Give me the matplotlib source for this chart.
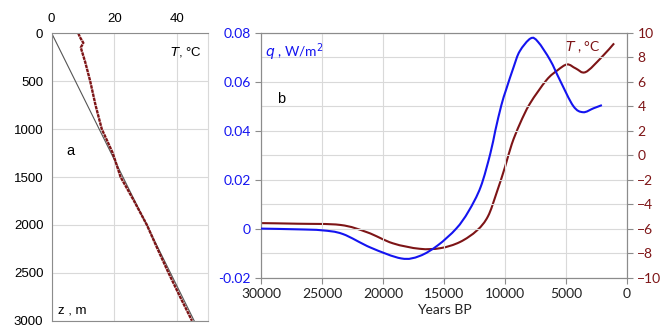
import matplotlib.pyplot as plt
from matplotlib.path import Path
from matplotlib.patches import PathPatch

# panel a: borehole temperature profile
depth = [0, 40, 100, 150, 300, 500, 750, 1000, 1250, 1500, 1750, 2000, 2250, 2500, 2750, 3000]
temp_profile = [8.5, 9.0, 10.1, 9.3, 10.7, 12.3, 14.0, 16.0, 19.5, 22.0, 26.3, 30.4, 33.8, 37.3, 41.0, 44.8]
ref_depth = [0, 3000]
ref_temp = [0, 45.5]

# panel b: reconstructed heat flux and surface temperature
years_q = [30000, 27000, 25000, 23300, 21000, 18500, 17000, 15500, 14000, 13000, 12000,
           11200, 10800, 10300, 9900, 9300, 8800, 7900, 7300, 6300, 5500, 4400, 3600, 2750, 2060]
q = [0.0, -0.0003, -0.0007, -0.0022, -0.0078, -0.0122, -0.0112, -0.0068, 0.0, 0.007, 0.017,
     0.0308, 0.040, 0.0505, 0.057, 0.066, 0.0725, 0.0778, 0.0764, 0.0689, 0.0607, 0.0501,
     0.0476, 0.0492, 0.0505]
years_T = [30000, 27000, 23500, 21300, 19200, 17000, 15300, 13700, 12300, 11400, 10700,
           10000, 9450, 8770, 7950, 6600, 5700, 4900, 4200, 3400, 2100, 1060]
T = [-5.55, -5.6, -5.7, -6.3, -7.2, -7.65, -7.6, -7.1, -6.15, -5.0, -3.1,
     -0.96, 0.9, 2.6, 4.24, 6.15, 6.95, 7.43, 7.1, 6.8, 8.0, 9.15]

dark_red = '#7d1416'
blue = '#1414f0'
grid_col = '#d9d9d9'
spine_col = '#8c8c8c'


def smooth_line(ax, x, y, **kw):
    # Excel-style smoothed line: Catmull-Rom through the points as cubic Beziers
    pts = list(zip(x, y))
    verts = [pts[0]]
    codes = [Path.MOVETO]
    n = len(pts)
    for i in range(n - 1):
        p0 = pts[max(i - 1, 0)]
        p1 = pts[i]
        p2 = pts[i + 1]
        p3 = pts[min(i + 2, n - 1)]
        c1 = (p1[0] + (p2[0] - p0[0]) / 6, p1[1] + (p2[1] - p0[1]) / 6)
        c2 = (p2[0] - (p3[0] - p1[0]) / 6, p2[1] - (p3[1] - p1[1]) / 6)
        verts += [c1, c2, p2]
        codes += [Path.CURVE4] * 3
    ax.add_patch(PathPatch(Path(verts, codes), fill=False, **kw))


fig = plt.figure(figsize=(6.65, 3.29), dpi=100)

# ---- panel a
ax1 = fig.add_axes([0.0777, 0.025, 0.2355, 0.874])
ax1.plot(ref_temp, ref_depth, color='#555555', lw=0.8)
ax1.plot(temp_profile, depth, color=dark_red, lw=1.7, ls=(0, (1.5, 0.3)))
ax1.set_xlim(0, 50)
ax1.set_ylim(3000, 0)
ax1.set_xticks([0, 20, 40])
ax1.set_yticks([0, 500, 1000, 1500, 2000, 2500, 3000])
ax1.xaxis.tick_top()
ax1.tick_params(length=0, labelsize=9.5, pad=6)
for lab in ax1.get_xticklabels() + ax1.get_yticklabels():
    lab.set_fontfamily('Liberation Sans')
ax1.grid(True, color=grid_col, lw=0.8)
ax1.set_axisbelow(True)
for s in ['left', 'top', 'bottom']:
    ax1.spines[s].set_color(spine_col)
ax1.spines['right'].set_color(grid_col)
ax1.text(0.96, 0.96, r'$T$, °C', transform=ax1.transAxes, ha='right', va='top',
         fontsize=9.5, family='Liberation Sans')
ax1.text(0.04, 0.015, 'z , m', transform=ax1.transAxes, ha='left', va='bottom',
         fontsize=9.5, family='Liberation Sans')
ax1.text(6, 1230, 'a', ha='center', va='center', fontsize=10.5, family='Liberation Sans')

# ---- panel b
ax2 = fig.add_axes([0.3925, 0.1565, 0.5504, 0.7432])
ax3 = ax2.twinx()
smooth_line(ax2, years_q, q, edgecolor=blue, lw=1.5, zorder=3)
smooth_line(ax3, years_T, T, edgecolor=dark_red, lw=1.5)
ax2.set_xlim(30000, 0)
ax2.set_ylim(-0.02, 0.08)
ax3.set_ylim(-10, 10)
ax2.set_xticks([30000, 25000, 20000, 15000, 10000, 5000, 0])
ax2.set_yticks([-0.02, 0, 0.02, 0.04, 0.06, 0.08])
ax2.set_yticklabels(['-0.02', '0', '0.02', '0.04', '0.06', '0.08'])
ax3.set_yticks(range(-10, 11, 2))
ax2.tick_params(axis='y', colors=spine_col, labelcolor=blue, length=4, labelsize=10)
ax2.tick_params(axis='x', colors=spine_col, labelcolor='#222222', length=4, labelsize=10)
ax3.tick_params(axis='y', colors=spine_col, labelcolor=dark_red, length=4, labelsize=10)
for lab in ax2.get_xticklabels() + ax2.get_yticklabels() + ax3.get_yticklabels():
    lab.set_fontfamily('Lato')
ax2.xaxis.grid(True, color=grid_col, lw=0.8)
ax3.yaxis.grid(True, color=grid_col, lw=0.8)
ax3.set_zorder(ax2.get_zorder() - 1)
ax2.patch.set_visible(False)
for ax in (ax2, ax3):
    for s in ax.spines.values():
        s.set_color(spine_col)
ax2.set_xlabel('Years BP', fontsize=10, family='Lato', labelpad=3, color='#222222')
ax2.text(0.01, 0.965, r'$q$ , W/m$^2$', transform=ax2.transAxes, ha='left', va='top',
         fontsize=10, color=blue, family='Lato')
ax2.text(0.88, 0.975, r'$T$ , °C', transform=ax2.transAxes, ha='center', va='top',
         fontsize=10, color=dark_red, family='Lato')
ax2.text(0.045, 0.73, 'b', transform=ax2.transAxes, ha='left', va='center',
         fontsize=10.5, family='Liberation Sans')

fig.savefig('out.png', dpi=100)
